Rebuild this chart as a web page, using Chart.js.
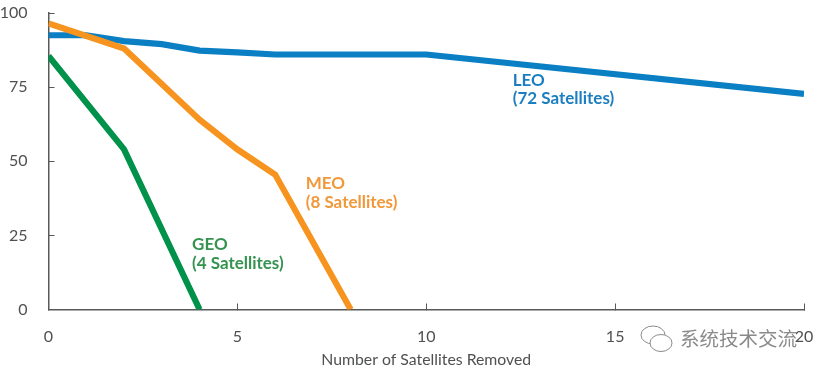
<!DOCTYPE html>
<html><head><meta charset="utf-8">
<script src="https://cdn.jsdelivr.net/npm/chart.js@4"></script>
<style>html,body{margin:0;padding:0;background:#fff}canvas{display:block}</style>
</head><body><canvas id="c" width="825" height="375"></canvas>
<script>
const leoX=[0,1,2,3,4,5,6,10,20];
const leoY=[92.5,92.5,90.5,89.5,87.3,86.7,86,86,72.7];
const meoX=[0,2,4,5,6,8];
const meoY=[96.5,88,64,54,45.5,0];
const geoX=[0,2,4];
const geoY=[85.5,54,0];
const xTicks=[0,5,10,15,20];
const yTicks=[0,25,50,75,100];
const toPts=(x,y)=>x.map((v,i)=>({x:v,y:y[i]}));
const FONT='Lato, "Open Sans", sans-serif';
const GRAY='#4f5052';
const notes=[
 {lines:['LEO','(72 Satellites)'],x:12.29,y:77.3,color:'#1c7ec2'},
 {lines:['MEO','(8 Satellites)'],x:6.81,y:42.4,color:'#f0983a'},
 {lines:['GEO','(4 Satellites)'],x:3.80,y:21.8,color:'#35924f'}
];
const noPad=s=>{s.paddingLeft=s.paddingRight=s.paddingTop=s.paddingBottom=0;};
const notePlugin={id:'notes',afterDatasetsDraw(ch){
 const c=ch.ctx,sx=ch.scales.x,sy=ch.scales.y;
 c.save();c.textAlign='left';c.textBaseline='middle';c.font='bold 17px '+FONT;
 notes.forEach(n=>{c.fillStyle=n.color;n.lines.forEach((t,i)=>c.fillText(t,sx.getPixelForValue(n.x),sy.getPixelForValue(n.y)+i*18.5));});
 c.restore();
 c.save();c.strokeStyle='#8a8a8a';c.fillStyle='#fff';c.lineWidth=1;
 c.beginPath();c.ellipse(653,335,12,9,0,0,7);c.stroke();
 c.beginPath();c.ellipse(661,343,11,8.5,0,0,7);c.fill();c.stroke();
 c.fillStyle='#8a8a8a';c.font='19.5px "Noto Sans CJK SC"';c.textAlign='left';c.textBaseline='middle';
 c.fillText('系统技术交流',680,339);
 c.restore();
}};
new Chart(document.getElementById('c'),{
 type:'line',
 data:{datasets:[
  {label:'GEO',data:toPts(geoX,geoY),borderColor:'#00914a'},
  {label:'MEO',data:toPts(meoX,meoY),borderColor:'#f7941f'},
  {label:'LEO',data:toPts(leoX,leoY),borderColor:'#0a7fc4'}
 ].map(d=>({...d,borderWidth:6.2,pointRadius:0,tension:0,fill:false,borderCapStyle:'butt',borderJoinStyle:'miter'}))},
 options:{
  responsive:false,animation:false,
  layout:{autoPadding:false,padding:{top:13,right:21,bottom:0,left:0}},
  plugins:{legend:{display:false},tooltip:{enabled:false},title:{display:false}},
  scales:{
   x:{type:'linear',min:0,max:20,
    afterBuildTicks:s=>{s.ticks=xTicks.map(v=>({value:v}));},
    afterFit:s=>{s.height=65.5;noPad(s);},
    border:{color:'#58595b',width:1.5},
    grid:{drawOnChartArea:false,drawTicks:true,tickLength:-6,color:'#58595b',tickWidth:1},
    ticks:{color:GRAY,font:{family:FONT,size:16},padding:24,maxRotation:0,autoSkip:false},
    title:{display:true,text:'Number of Satellites Removed',color:GRAY,font:{family:FONT,size:15.8},padding:{top:0,bottom:6}}
   },
   y:{min:0,max:100,
    afterBuildTicks:s=>{s.ticks=yTicks.map(v=>({value:v}));},
    afterFit:s=>{s.width=48.5;noPad(s);},
    border:{color:'#58595b',width:1.5},
    grid:{drawOnChartArea:false,drawTicks:true,tickLength:-6,color:'#58595b',tickWidth:1},
    ticks:{color:GRAY,font:{family:FONT,size:16},padding:27}
   }
  }
 },
 plugins:[notePlugin]
});
</script></body></html>
